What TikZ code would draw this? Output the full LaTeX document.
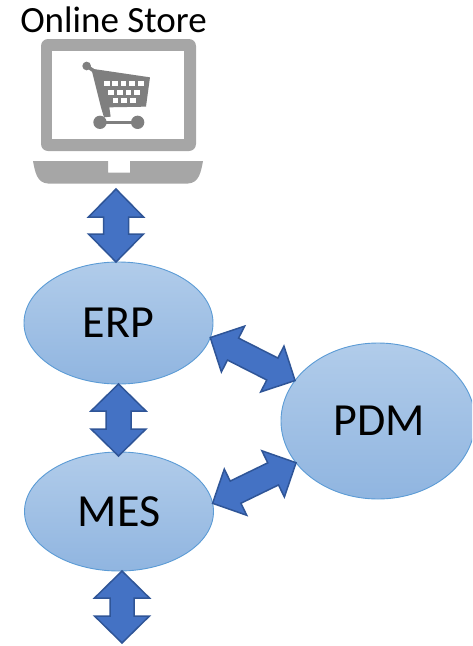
\documentclass[tikz,border=0pt]{standalone}
\usepackage{fontspec}
\setmainfont{Carlito}
\usetikzlibrary{calc,shapes.geometric}
\definecolor{ellline}{HTML}{5B9BD5}
\definecolor{elltop}{HTML}{B1CCEA}
\definecolor{ellbot}{HTML}{90B5E0}
\definecolor{arrfill}{HTML}{4472C4}
\definecolor{arrline}{HTML}{2F5597}
\definecolor{lapgray}{HTML}{A6A6A6}
\definecolor{cartgray}{HTML}{7F7F7F}
\tikzset{
  sysnode/.style={ellipse,draw=ellline,line width=0.9pt,top color=elltop,bottom color=ellbot,inner sep=0pt,outer sep=0pt,font=\fontsize{46}{46}\selectfont,text=black},
  blockarrow/.style={draw=arrline,fill=arrfill,line width=1.5pt,line join=miter}
}
% #1,#2 ends; #3 head length; #4 head half width; #5 stem half width
\newcommand{\dblarrow}[5]{%
  \path[blockarrow] (#1)
    -- ($(#1)!#3pt!(#2)!#4pt!90:(#2)$)
    -- ($(#1)!#3pt!(#2)!#5pt!90:(#2)$)
    -- ($(#2)!#3pt!(#1)!#5pt!-90:(#1)$)
    -- ($(#2)!#3pt!(#1)!#4pt!-90:(#1)$)
    -- (#2)
    -- ($(#2)!#3pt!(#1)!#4pt!90:(#1)$)
    -- ($(#2)!#3pt!(#1)!#5pt!90:(#1)$)
    -- ($(#1)!#3pt!(#2)!#5pt!-90:(#2)$)
    -- ($(#1)!#3pt!(#2)!#4pt!-90:(#2)$)
    -- cycle;}
\begin{document}
\begin{tikzpicture}[x=1pt,y=-1pt]
\useasboundingbox (0,0) rectangle (472,646);
\clip (0,0) rectangle (472,646);
\node[anchor=base,font=\fontsize{37}{37}\selectfont,text=black] (store) at (113.5,32) {Online Store};
% laptop
\fill[lapgray,rounded corners=7pt] (41,39) rectangle (196,151);
\fill[white] (52,51) rectangle (184,139);
\fill[lapgray] (33,161) -- (108,161) -- (108,172.5) -- (130,172.5) -- (130,161) -- (203,161)
  .. controls (201,172) and (199,183) .. (188,183.5) -- (48,183.5) .. controls (37,183) and (35,172) .. (33,161) -- cycle;
% cart
\begin{scope}[shift={(20,0)},x=0.3333pt,y=-0.3333pt]
  \fill[cartgray] (200,198) circle (13);
  \draw[cartgray,line width=3.5pt] (200,198) -- (222,213);
  \fill[cartgray] (214,206) -- (390,232) -- (378,320) -- (268,322) -- (272,350) -- (252,352) -- (243,322) -- cycle;
  \draw[cartgray,line width=3.5pt] (240,367) -- (353,367);
  \fill[cartgray] (240,367) circle (20) (353,367) circle (20);
  \foreach \x in {252,277,302,328,354} \fill[white] (\x,243) rectangle +(17,15);
  \foreach \x in {265,291,317,343} \fill[white] (\x,270) rectangle +(17,15);
  \foreach \x in {278,304,330} \fill[white] (\x,295) rectangle +(17,15);
\end{scope}
% ellipses
\node[sysnode,minimum width=189pt,minimum height=122pt] (erp) at (118.5,323) {\raisebox{-2pt}{ERP}};
\node[sysnode,minimum width=189pt,minimum height=119pt] (mes) at (119,511.5) {\raisebox{-1pt}{MES}};
\node[sysnode,minimum width=194pt,minimum height=156pt] (pdm) at (378,421) {\kern2pt\raisebox{-1.5pt}{PDM}};
% arrows
\coordinate (storeport) at (116,189);
\coordinate (mesout) at (122,643);
\dblarrow{storeport}{$(erp.north)+(-2.5,0)$}{28}{27.5}{12.5}
\dblarrow{erp.south}{$(mes.north)+(-0.5,4)$}{27}{27.5}{12.5}
\dblarrow{$(mes.south)+(3,0)$}{mesout}{27}{27.5}{12}
\dblarrow{erp.-9.8}{pdm.154.5}{25.5}{25.7}{12.3}
\dblarrow{pdm.207.9}{mes.5}{25.5}{25.7}{12.3}
\end{tikzpicture}
\end{document}
